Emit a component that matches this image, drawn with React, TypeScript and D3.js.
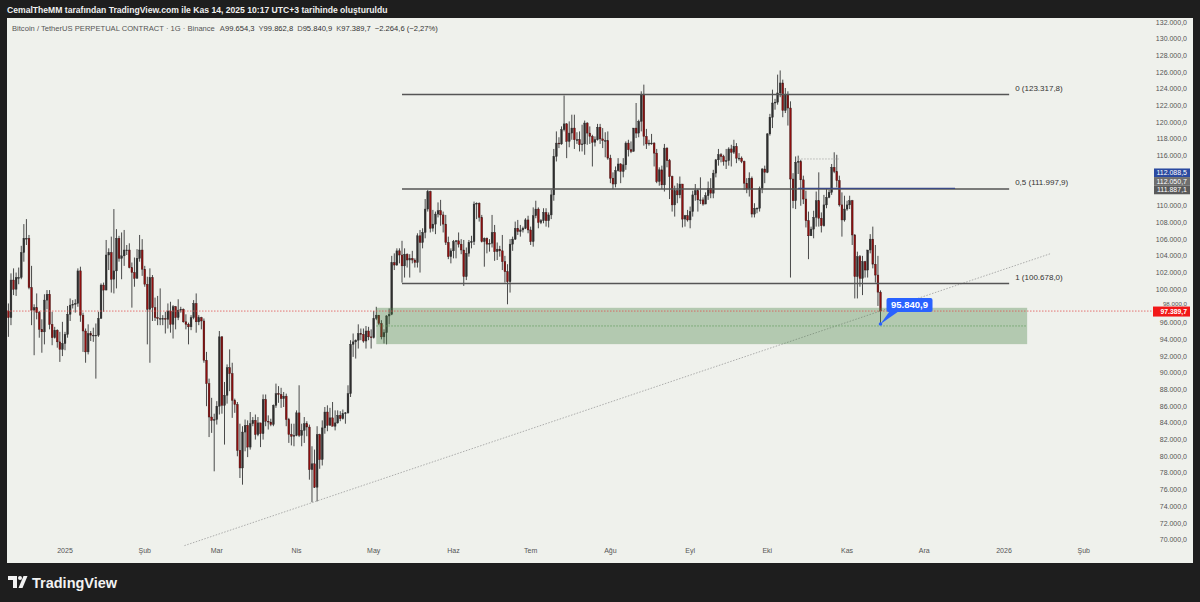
import React from "react";
import * as d3 from "d3";

// ---------- DATA (prices in thousands USDT; each day = [high, low, close]) ----------
const START_DATE = Date.UTC(2024, 11, 10);
const FIRST_OPEN = 97.4;

const DEC_2024 = [
  [98.3, 94.3, 96.6], [101.9, 95.7, 101.1], [102.5, 99.3, 100.0], [102.0, 99.2, 101.4], [102.6, 100.6, 101.4],
  [105.2, 101.2, 104.4], [107.8, 103.3, 106.1], [108.4, 105.3, 106.1], [106.5, 100.0, 100.2], [102.8, 95.7, 97.5],
  [98.2, 92.1, 97.8], [99.5, 96.4, 97.2], [97.4, 94.2, 95.2], [96.4, 92.4, 94.9], [99.4, 93.4, 98.7],
  [99.9, 97.6, 99.4], [99.9, 95.2, 95.8], [97.3, 93.3, 94.2], [95.5, 94.1, 95.1], [95.2, 93.0, 93.7],
  [94.9, 91.3, 92.8], [96.1, 92.0, 93.5],
];
const JAN_2025 = [
  [94.9, 92.7, 94.6], [98.0, 94.2, 97.0], [98.9, 96.2, 98.1], [98.7, 97.7, 98.2], [98.8, 97.2, 98.3],
  [102.5, 97.9, 102.2], [102.7, 96.1, 96.9], [97.2, 92.5, 95.0], [95.3, 91.2, 92.5], [95.8, 92.2, 94.7],
  [95.0, 93.8, 94.5], [95.4, 93.7, 94.5], [95.9, 89.3, 94.5], [97.3, 94.3, 96.5], [100.7, 96.5, 100.5],
  [100.8, 97.3, 99.9], [105.9, 99.9, 104.1], [104.9, 102.3, 104.4], [106.3, 99.6, 101.2], [109.6, 99.5, 102.2],
  [107.2, 100.1, 106.1], [106.4, 103.3, 103.7], [106.8, 101.2, 104.0], [107.1, 102.8, 104.7], [105.3, 104.1, 104.7],
  [105.5, 102.5, 102.6], [103.2, 97.8, 102.0], [103.8, 100.3, 101.3], [104.8, 101.3, 103.7], [106.5, 103.3, 104.7],
  [106.0, 101.6, 102.4],
];
const FEB_2025 = [
  [102.8, 100.3, 100.6], [101.5, 93.4, 97.6], [102.5, 91.2, 101.4], [101.7, 96.2, 97.8], [99.0, 96.2, 96.6],
  [99.2, 95.7, 96.5], [100.1, 95.7, 96.5], [96.9, 95.7, 96.5], [97.3, 94.7, 96.4], [98.3, 95.3, 97.4],
  [98.5, 94.8, 95.8], [98.1, 94.1, 97.9], [98.0, 95.2, 96.6], [98.8, 96.3, 97.5], [97.9, 97.2, 97.6],
  [97.7, 96.0, 96.1], [97.0, 95.2, 95.8], [96.0, 93.4, 95.5], [96.9, 95.1, 96.6], [98.7, 96.4, 98.3],
  [99.5, 94.8, 96.1], [96.9, 95.7, 96.6], [96.7, 95.2, 96.2], [96.5, 91.2, 91.5], [92.5, 86.0, 88.7],
  [89.3, 82.3, 84.7], [87.0, 82.8, 84.3], [85.1, 78.2, 84.4],
];
const MAR_2025 = [
  [86.6, 83.8, 86.0], [95.0, 85.0, 94.3], [94.4, 85.1, 86.1], [88.9, 81.4, 87.3], [91.0, 86.3, 90.6],
  [92.8, 87.8, 89.9], [91.2, 84.6, 86.7], [86.9, 85.2, 86.2], [86.5, 80.0, 80.7], [83.9, 77.4, 78.6],
  [83.6, 76.6, 82.9], [84.4, 80.6, 83.7], [84.3, 79.9, 81.1], [85.3, 80.8, 83.9], [84.7, 83.6, 84.3],
  [85.0, 82.0, 82.6], [84.7, 82.4, 84.0], [84.0, 81.1, 82.7], [87.4, 82.0, 86.8], [87.4, 83.6, 84.2],
  [84.9, 83.2, 84.1], [84.5, 83.6, 83.8], [86.2, 83.6, 86.1], [88.7, 85.8, 87.5], [88.4, 86.4, 87.4],
  [88.2, 85.8, 86.9], [87.7, 85.9, 87.2], [87.5, 83.6, 84.4], [84.6, 81.6, 82.6], [83.9, 81.3, 82.4],
  [83.9, 81.2, 82.5],
];
const APR_2025 = [
  [85.5, 82.4, 85.2], [88.5, 82.3, 82.5], [83.9, 81.2, 83.1], [84.7, 81.6, 83.9], [84.2, 82.4, 83.5],
  [83.8, 77.2, 78.4], [81.2, 74.5, 79.1], [80.8, 76.2, 76.3], [83.6, 74.6, 82.6], [82.7, 78.5, 79.6],
  [84.3, 78.9, 83.4], [85.9, 82.7, 85.3], [86.1, 83.0, 83.7], [85.8, 83.7, 84.6], [86.5, 83.6, 83.6],
  [85.5, 83.1, 84.0], [85.5, 83.9, 84.9], [85.4, 84.2, 84.5], [85.6, 84.4, 85.1], [85.3, 83.9, 85.2],
  [88.5, 85.1, 87.5], [93.9, 87.1, 93.4], [94.7, 91.9, 93.7], [94.0, 91.7, 93.9], [95.8, 92.9, 94.7],
  [95.3, 93.9, 94.6], [95.3, 93.6, 93.8], [95.6, 92.9, 95.0], [95.5, 93.9, 94.3], [95.2, 92.9, 94.2],
];
const MAY_2025 = [
  [97.4, 94.1, 96.5], [97.9, 96.3, 96.9], [96.9, 95.7, 95.9], [96.3, 94.0, 94.3], [95.2, 93.5, 94.8],
  [96.9, 93.4, 96.8], [97.7, 95.8, 97.0], [104.0, 96.9, 103.2], [104.3, 102.3, 102.9], [104.9, 102.8, 104.6],
  [104.9, 103.1, 104.1], [105.8, 100.8, 102.8], [104.9, 101.4, 104.2], [104.3, 102.6, 103.5], [104.2, 101.4, 103.7],
  [104.6, 103.1, 103.5], [103.7, 102.6, 103.2], [106.7, 102.6, 106.4], [107.1, 102.0, 105.6], [107.3, 104.9, 106.8],
  [110.8, 106.1, 109.6], [111.9, 109.3, 111.7], [111.8, 106.8, 107.3], [109.5, 106.9, 107.8], [109.3, 106.6, 109.0],
  [110.4, 108.6, 109.4], [110.7, 107.6, 108.9], [109.3, 106.8, 107.8], [108.9, 105.3, 105.6], [106.3, 103.6, 103.9],
  [104.9, 103.1, 104.6],
];
const JUN_2025 = [
  [105.9, 103.7, 105.7], [105.9, 103.7, 105.8], [106.8, 105.0, 105.4], [106.0, 104.2, 104.7], [105.9, 100.4, 101.5],
  [105.0, 101.1, 104.3], [105.9, 103.9, 105.6], [106.4, 104.9, 105.7], [110.5, 105.3, 110.2], [110.4, 108.4, 110.3],
  [110.4, 108.1, 108.6], [108.9, 105.6, 105.7], [106.2, 102.7, 106.1], [106.2, 104.3, 105.4], [106.0, 104.5, 105.5],
  [108.9, 105.0, 106.8], [107.7, 103.4, 104.5], [105.6, 103.5, 104.8], [105.2, 103.9, 104.6], [106.5, 102.3, 103.3],
  [104.0, 100.8, 102.1], [103.0, 98.2, 100.9], [106.0, 99.6, 105.4], [106.3, 104.6, 106.0], [108.1, 105.9, 107.3],
  [108.3, 106.5, 106.9], [107.7, 106.3, 107.1], [107.5, 106.8, 107.3], [108.5, 107.2, 108.3], [108.8, 106.7, 107.1],
];
const JUL_2025 = [
  [107.5, 105.3, 105.7], [109.8, 105.1, 108.8], [110.6, 108.5, 109.6], [109.8, 107.3, 108.0], [108.4, 107.8, 108.2],
  [109.7, 107.9, 109.2], [109.7, 107.5, 108.2], [109.2, 107.4, 108.9], [111.9, 108.4, 111.3], [116.8, 110.6, 115.9],
  [118.9, 115.3, 117.5], [118.2, 116.9, 117.4], [119.5, 117.3, 119.1], [123.2, 118.9, 119.8], [119.9, 115.7, 117.7],
  [120.1, 117.0, 118.7], [120.9, 117.9, 119.3], [120.9, 116.8, 117.9], [118.8, 117.4, 117.9], [118.9, 116.5, 117.3],
  [119.7, 116.5, 117.4], [120.2, 116.1, 119.9], [120.0, 117.3, 118.7], [119.5, 117.4, 118.3], [118.5, 114.7, 117.6],
  [118.3, 117.1, 117.9], [119.8, 117.8, 119.4], [119.8, 117.4, 118.0], [119.3, 116.9, 117.8], [118.8, 115.8, 117.8],
  [118.9, 115.5, 115.7],
];
const AUG_2025 = [
  [116.1, 112.7, 113.3], [114.0, 112.0, 112.6], [114.7, 112.2, 114.2], [115.7, 114.1, 115.0], [115.1, 112.7, 114.1],
  [115.7, 113.4, 114.9], [117.7, 114.3, 117.5], [117.9, 115.9, 116.7], [117.7, 116.3, 116.5], [119.3, 116.5, 119.3],
  [122.3, 118.1, 118.7], [120.3, 118.2, 120.1], [123.7, 118.9, 123.3], [124.5, 117.2, 118.3], [119.2, 116.8, 117.4],
  [117.9, 117.2, 117.5], [118.6, 117.3, 117.5], [117.6, 114.7, 116.3], [116.8, 112.7, 112.9], [114.6, 112.4, 114.3],
  [114.8, 112.0, 112.5], [117.4, 111.7, 116.9], [117.0, 114.6, 115.4], [115.6, 110.8, 113.5], [113.6, 109.3, 110.1],
  [112.4, 108.7, 111.8], [112.7, 110.3, 111.3], [113.5, 110.9, 112.6], [112.6, 107.4, 108.4], [108.9, 107.5, 108.8],
  [109.5, 108.1, 108.3],
];
const SEP_2025 = [
  [109.9, 107.3, 109.3], [111.8, 108.7, 111.3], [112.6, 110.6, 111.8], [112.0, 109.3, 110.7], [113.4, 110.2, 110.7],
  [111.0, 110.0, 110.2], [111.6, 110.2, 111.2], [112.9, 110.7, 112.1], [113.3, 110.9, 111.5], [114.3, 110.9, 113.9],
  [115.6, 113.4, 115.5], [116.8, 114.8, 116.1], [116.3, 115.2, 115.9], [116.1, 114.8, 115.3], [116.8, 114.4, 115.4],
  [117.0, 114.8, 116.8], [117.3, 114.7, 116.4], [117.9, 116.2, 117.1], [117.5, 115.1, 115.7], [116.3, 115.4, 115.7],
  [115.9, 115.1, 115.3], [115.4, 111.9, 112.7], [113.3, 111.5, 112.0], [114.0, 111.1, 113.3], [113.5, 108.6, 109.0],
  [110.3, 108.6, 109.7], [109.8, 109.1, 109.7], [112.3, 109.3, 112.1], [114.5, 111.5, 114.4], [114.8, 112.7, 114.0],
];
const OCT_2025 = [
  [118.7, 113.9, 118.6], [121.0, 118.4, 120.6], [123.9, 119.3, 122.3], [122.8, 121.5, 122.4], [125.7, 122.1, 123.5],
  [126.2, 123.0, 124.7], [125.1, 120.6, 121.4], [124.1, 121.1, 123.3], [123.7, 119.6, 121.7], [122.5, 101.4, 113.2],
  [113.9, 109.7, 110.6], [115.9, 109.6, 115.2], [116.0, 113.8, 115.3], [115.5, 110.0, 113.1], [113.6, 110.2, 110.8],
  [111.8, 107.4, 108.2], [109.3, 103.6, 106.4], [107.5, 106.4, 107.2], [109.4, 106.1, 108.6], [111.7, 107.5, 110.6],
  [114.0, 107.5, 108.5], [109.2, 106.8, 107.6], [111.3, 107.5, 110.1], [112.0, 109.7, 111.0], [111.9, 110.9, 111.6],
  [115.0, 111.3, 114.6], [116.4, 113.9, 114.1], [116.1, 112.2, 113.0], [113.6, 109.9, 110.1], [111.6, 106.3, 108.3],
  [111.2, 108.1, 109.6],
];
const NOV_2025 = [
  [110.6, 109.4, 110.1], [111.2, 109.6, 110.6], [110.7, 105.3, 106.5], [106.6, 98.9, 101.5], [104.5, 98.9, 103.9],
  [104.1, 100.3, 101.3], [104.0, 99.3, 103.3], [103.4, 101.4, 102.3], [104.7, 101.4, 104.7], [106.6, 104.3, 106.0],
  [107.5, 102.5, 103.0], [105.3, 100.8, 101.7], [104.0, 98.0, 99.6543], [99.8628, 95.8409, 97.3897],
];

const PRICE_TICKS = d3.range(70000, 132001, 2000);
const TIME_LABELS = ["2025", "Şub", "Mar", "Nis", "May", "Haz", "Tem", "Ağu", "Eyl", "Eki", "Kas", "Ara", "2026", "Şub"];
const FIB_LEVELS = ["0", "0,5", "1"];
const FIB_PRICES = [123317.8, 111997.9, 100678.0];
const ZONE_TOP = 97780;
const ZONE_BOTTOM = 93430;
const LAST_PRICE = 97389.7;
const LOW_PRICE = 95840.9;
const NAVY_PRICE = 112088.5;
const DOTTED_PRICE = 115600;
const AXIS_TAGS = [112088.5, 112050.7, 111887.1];
const TREND_ANCHORS = [74450, 97400];
const HEADER = "CemalTheMM tarafından TradingView.com ile Kas 14, 2025 10:17 UTC+3 tarihinde oluşturuldu";
const TITLE = "Bitcoin / TetherUS PERPETUAL CONTRACT · 1G · Binance";
const OHLC_LABELS = ["A", "Y", "D", "K"];
const OHLC_VALUES = [99654.3, 99862.8, 95840.9, 97389.7];
const CHANGE = "−2.264,6 (−2,27%)";

// ---------- helpers ----------
const MONTHS = [DEC_2024, JAN_2025, FEB_2025, MAR_2025, APR_2025, MAY_2025, JUN_2025, JUL_2025, AUG_2025, SEP_2025, OCT_2025, NOV_2025];
const DAY = 86400000;
const utc = (y: number, m: number, d: number) => new Date(Date.UTC(y, m, d));

const locale = d3.formatLocale({ decimal: ",", thousands: ".", grouping: [3], currency: ["", ""] });
const fmt = locale.format(",.1f");

type Candle = { date: Date; o: number; h: number; l: number; c: number };
const candles: Candle[] = (() => {
  const rows = MONTHS.flat();
  let prev = FIRST_OPEN;
  return rows.map((r, i) => {
    const cd = { date: new Date(START_DATE + i * DAY), o: prev * 1000, h: r[0] * 1000, l: r[1] * 1000, c: r[2] * 1000 };
    prev = r[2];
    return cd;
  });
})();

const W = 1200;
const H = 602;
const PANEL = { x0: 7, y0: 18, x1: 1193, y1: 563 };
const FONT = "'Liberation Sans', Arial, sans-serif";

export default function App() {
  const x = d3.scaleUtc().domain([utc(2025, 0, 1), utc(2026, 0, 1)]).range([65, 1004]);
  const y = d3.scaleLinear().domain([70000, 132000]).range([539.8, 22]);
  const bw = 1.8;
  const last = candles[candles.length - 1];

  const fibStart = utc(2025, 4, 12);
  const fibEnd = utc(2026, 0, 3);

  // trendline through Apr 7 low and Nov 14 price, extended
  const tA = utc(2025, 3, 7).getTime();
  const tB = utc(2025, 10, 14).getTime();
  const slope = (TREND_ANCHORS[1] - TREND_ANCHORS[0]) / (tB - tA);
  const tS = utc(2025, 1, 16).getTime() + 10 * 3600000;
  const tE = utc(2026, 0, 19).getTime();
  const pS = TREND_ANCHORS[0] + slope * (tS - tA);
  const pE = TREND_ANCHORS[0] + slope * (tE - tA);

  const lowX = x(last.date);
  const lowY = y(LOW_PRICE);
  const lastY = y(LAST_PRICE);

  const timeTicks = TIME_LABELS.map((t, i) => ({ t, d: utc(2025, i, 1) }));

  return (
    <svg width={W} height={H} style={{ position: "absolute", left: 0, top: 0, display: "block" }} fontFamily={FONT}>
      <rect x={0} y={0} width={W} height={H} fill="#1e1e1e" />
      <text x={7} y={12.5} fill="#f0f0f0" fontSize={8.6} fontWeight={600}>{HEADER}</text>
      <rect x={PANEL.x0} y={PANEL.y0} width={PANEL.x1 - PANEL.x0} height={PANEL.y1 - PANEL.y0} fill="#eff1ec" />

      {/* legend */}
      <text x={12} y={30.5} fontSize={7.6} fill="#555">
        <tspan>{TITLE}</tspan>
        {OHLC_LABELS.map((l, i) => (
          <React.Fragment key={l}>
            <tspan dx={i === 0 ? 5 : 4} fill="#555">{l}</tspan>
            <tspan fill="#333">{fmt(OHLC_VALUES[i])}</tspan>
          </React.Fragment>
        ))}
        <tspan dx={4} fill="#333">{CHANGE}</tspan>
      </text>

      {/* trendline */}
      <line x1={x(new Date(tS))} y1={y(pS)} x2={x(new Date(tE))} y2={y(pE)} stroke="#9a9a9a" strokeWidth={0.8} strokeDasharray="1.5,1.5" />

      {/* candles */}
      {candles.map((d, i) => {
        const cx = x(d.date);
        const up = d.c >= d.o;
        const top = y(Math.max(d.o, d.c));
        const bot = y(Math.min(d.o, d.c));
        return (
          <g key={i}>
            <line x1={cx} x2={cx} y1={y(d.h)} y2={y(d.l)} stroke="#4a4a4a" strokeWidth={1} />
            <rect x={cx - bw / 2} y={top} width={bw} height={Math.max(0.8, bot - top)} fill={up ? "#2e2e2e" : "#8e0f0f"} stroke={up ? "#2e2e2e" : "#3a1a1a"} strokeWidth={0.4} />
          </g>
        );
      })}

      {/* zone */}
      <rect x={x(utc(2025, 4, 2))} y={y(ZONE_TOP)} width={x(utc(2026, 0, 10)) - x(utc(2025, 4, 2))} height={y(ZONE_BOTTOM) - y(ZONE_TOP)} fill="rgba(70,125,65,0.35)" />
      <line x1={x(utc(2025, 4, 2))} x2={x(utc(2026, 0, 10))} y1={y((ZONE_TOP + ZONE_BOTTOM) / 2)} y2={y((ZONE_TOP + ZONE_BOTTOM) / 2)} stroke="#5f9a5a" strokeWidth={0.8} strokeDasharray="1.5,1.5" />

      {/* fib levels */}
      {FIB_PRICES.map((p, i) => (
        <g key={i}>
          <line x1={x(fibStart)} x2={x(fibEnd)} y1={y(p)} y2={y(p)} stroke="#555" strokeWidth={1.5} />
          <text x={x(fibEnd) + 6} y={y(p) - 4} fontSize={8} fill="#333">{`${FIB_LEVELS[i]} (${fmt(p)})`}</text>
        </g>
      ))}

      {/* navy line and dotted line */}
      <line x1={x(utc(2025, 9, 13))} x2={x(utc(2025, 11, 13))} y1={y(NAVY_PRICE)} y2={y(NAVY_PRICE)} stroke="#3b4a86" strokeWidth={1.2} />
      <line x1={x(utc(2025, 9, 13))} x2={x(utc(2025, 9, 29))} y1={y(DOTTED_PRICE)} y2={y(DOTTED_PRICE)} stroke="#a8a8a8" strokeWidth={0.8} strokeDasharray="1.5,1.5" />

      {/* last price line */}
      <line x1={PANEL.x0} x2={1153} y1={lastY} y2={lastY} stroke="#e05050" strokeWidth={0.8} strokeDasharray="1.5,1.5" />

      {/* callout */}
      <path d={`M${lowX},${lowY} L${lowX + 10},${lowY - 14} L${lowX + 20},${lowY - 14} Z`} fill="#2962ff" />
      <rect x={lowX + 6} y={lowY - 26} width={46} height={14} rx={2} fill="#2962ff" />
      <text x={lowX + 29} y={lowY - 15.5} fontSize={9.5} fontWeight={700} fill="#fff" textAnchor="middle">{fmt(LOW_PRICE)}</text>
      <circle cx={lowX} cy={lowY} r={1.8} fill="#2962ff" />

      {/* price axis */}
      {PRICE_TICKS.map((p) => {
        const ty = y(p);
        const near = Math.abs(ty - lastY) < 8;
        return (
          <text key={p} x={1187} y={near ? ty + 0.5 : ty + 2.5} fontSize={near ? 6.2 : 7} fill="#555" textAnchor="end">{fmt(p)}</text>
        );
      })}
      {AXIS_TAGS.map((p, i) => {
        const cy = y(AXIS_TAGS[AXIS_TAGS.length - 1]) - (AXIS_TAGS.length - 1 - i) * 8.6;
        const fills = ["#2b4aa0", "#6e6e6e", "#5a5a5a"];
        return (
          <g key={i}>
            <rect x={1154} y={cy - 4.3} width={36} height={8.6} fill={fills[i]} />
            <text x={1187} y={cy + 2.5} fontSize={7} fill="#fff" textAnchor="end">{fmt(p)}</text>
          </g>
        );
      })}
      <rect x={1153} y={lastY - 4.5} width={37} height={10} fill="#f21818" />
      <text x={1187} y={lastY + 3.3} fontSize={6.8} fontWeight={700} fill="#fff" textAnchor="end">{fmt(LAST_PRICE)}</text>

      {/* time axis */}
      {timeTicks.map(({ t, d }, i) => (
        <text key={i} x={x(d)} y={553} fontSize={7} fill="#555" textAnchor="middle">{t}</text>
      ))}

      {/* TradingView logo */}
      <g fill="#f2f2f2">
        <path d="M8,576 h9 v12 h-4 v-8 h-5 z" />
        <circle cx={20} cy={578} r={2} />
        <path d="M23.5,576 h4 l-5,12 h-4 z" />
        <text x={32} y={588} fontSize={14.5} fontWeight={600} fill="#f2f2f2">TradingView</text>
      </g>
    </svg>
  );
}
